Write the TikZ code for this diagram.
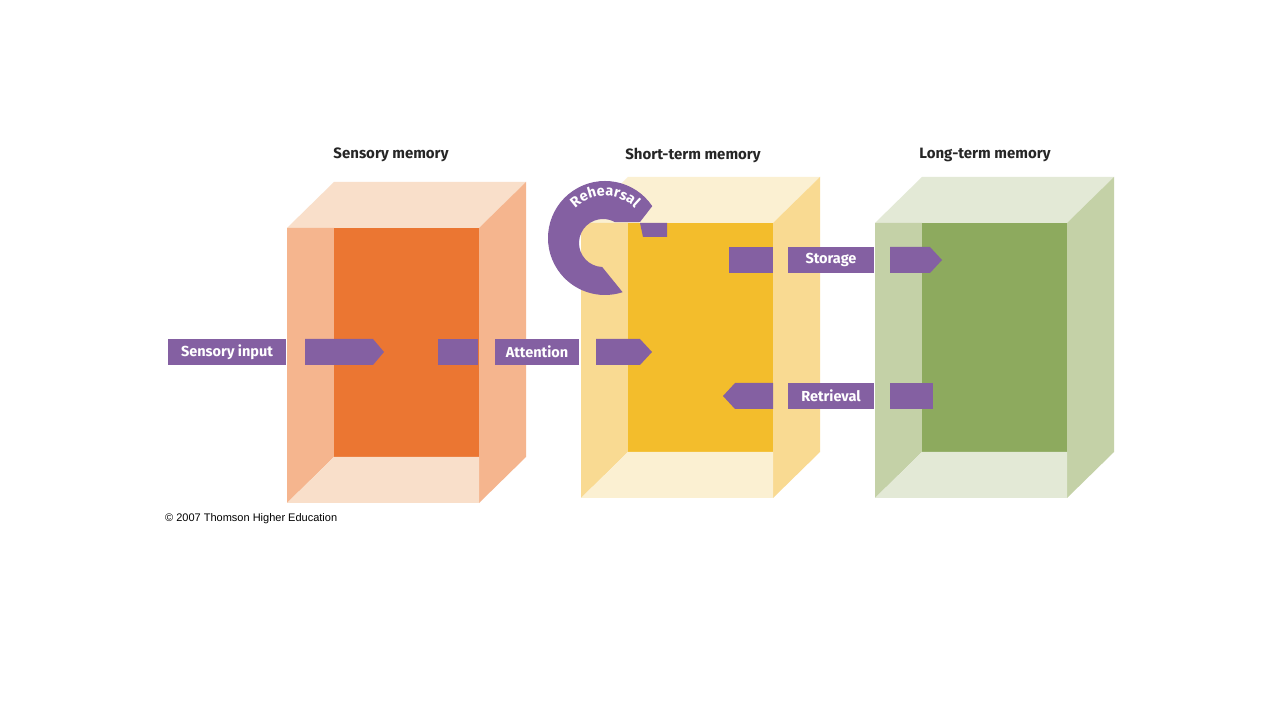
\documentclass[tikz,border=0pt]{standalone}
\usepackage{fontspec}
\setmainfont{Fira Sans}
\newfontfamily\creditfont{Liberation Sans}
\usetikzlibrary{decorations.text}

\definecolor{purp}{RGB}{132,96,162}
\definecolor{sensDark}{HTML}{EB7632}
\definecolor{sensMid}{HTML}{F5B58E}
\definecolor{sensLight}{HTML}{F9DFCA}
\definecolor{shortDark}{HTML}{F3BD2C}
\definecolor{shortMid}{HTML}{F9DA92}
\definecolor{shortLight}{HTML}{FBF0D2}
\definecolor{longDark}{HTML}{8DAA5E}
\definecolor{longMid}{HTML}{C4D1A7}
\definecolor{longLight}{HTML}{E3E9D6}

\tikzset{
  boxtitle/.style={font=\fontsize{15}{18}\selectfont\bfseries, text=black!85},
  labelbar/.style={fill=purp, text=white, font=\fontsize{14.5}{16}\selectfont\bfseries,
    minimum height=26pt, inner sep=0pt},
}

\begin{document}
\begin{tikzpicture}[x=1pt, y=1pt]
        \useasboundingbox[fill=white] (0,0) rectangle (1280,720);

        % Memory boxes
        \foreach \bx/\by/\dk/\md/\lt in {287/492/sensDark/sensMid/sensLight,
                                         581/497/shortDark/shortMid/shortLight,
                                         875/497/longDark/longMid/longLight} {
            \fill[\lt] (\bx,\by) -- ++(47,46) -- ++(192,0) -- ++(-47,-46) -- cycle;
            \fill[\md] (\bx,\by) -- ++(47,0) -- ++(0,-229) -- ++(-47,-46) -- cycle;
            \fill[\dk] (\bx+47,\by) rectangle ++(145,-229);
            \fill[\md] (\bx+192,\by) -- ++(47,46) -- ++(0,-275) -- ++(-47,-46) -- cycle;
            \fill[\lt] (\bx,\by-275) -- ++(47,46) -- ++(145,0) -- ++(0,-46) -- cycle;
        }

        % Titles
        \node[boxtitle] (sensTitle) at (391,565) {Sensory memory};
        \node[boxtitle] (shortTitle) at (693,565) {Short-term memory};
        \node[boxtitle] (longTitle) at (985,565) {Long-term memory};

        % Rehearsal loop
        \coordinate (outerC) at (605,482);
        \coordinate (innerC) at (603,477);
        \fill[purp] ([shift={(34:57)}]outerC) arc[start angle=34, end angle=288, radius=57]
            -- ([shift={(268:24)}]innerC) arc[start angle=268, end angle=60, radius=24]
            -- (640,498) -- cycle;
        \fill[purp] (640,497) -- (667,497) -- (667,483) -- (643,483) -- cycle;
        \path[decorate, decoration={text along path, text align=center, text color=white,
            text={|\fontsize{14.5}{16}\selectfont\bfseries|Rehearsal}}]
            ([shift={(140:42)}]outerC) arc[start angle=140, end angle=40, radius=42];

        % Sensory input -> attention
        \node[labelbar, minimum width=118pt] (input) at (227,368) {Sensory input};
        \fill[purp] (305,381) -- (373,381) -- (384,368) -- (373,355) -- (305,355) -- cycle;
        \fill[purp] (438,355) rectangle (478,381);
        \node[labelbar, minimum width=84pt] (attention) at (537,368) {Attention};
        \fill[purp] (596,381) -- (640,381) -- (652,368) -- (640,355) -- (596,355) -- cycle;

        % Storage
        \fill[purp] (729,447) rectangle (773,473);
        \node[labelbar, minimum width=86pt] (storage) at (831,460) {Storage};
        \fill[purp] (890,473) -- (930,473) -- (942,460) -- (930,447) -- (890,447) -- cycle;

        % Retrieval
        \fill[purp] (773,337) -- (735,337) -- (723,324) -- (735,311) -- (773,311) -- cycle;
        \node[labelbar, minimum width=86pt] (retrieval) at (831,324) {Retrieval};
        \fill[purp] (890,311) rectangle (933,337);

        % Credit line
        \node[anchor=west, inner sep=0pt, font=\creditfont\fontsize{11}{13}\selectfont] (credit)
            at (165,201) {© 2007 Thomson Higher Education};
\end{tikzpicture}
\end{document}
